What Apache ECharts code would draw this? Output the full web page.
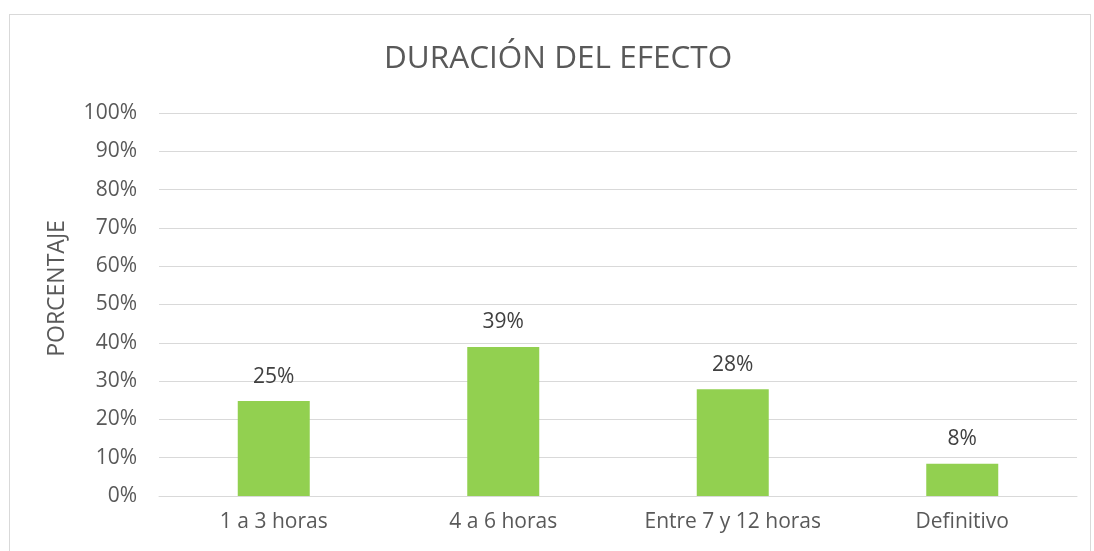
<!DOCTYPE html>
<html>
<head>
<meta charset="utf-8">
<script src="https://cdn.jsdelivr.net/npm/echarts@6/dist/echarts.min.js"></script>
<style>
  html, body { margin: 0; padding: 0; background: #fff; }
  #frame {
    position: absolute; left: 9px; top: 14px; width: 1082px; height: 560px;
    border: 1px solid #d9d9d9; box-sizing: border-box;
  }
  #main { position: absolute; left: 0; top: 0; width: 1094px; height: 551px; }
</style>
</head>
<body>
<div id="frame"></div>
<div id="main"></div>
<script>
// datos del gráfico
const categorias = ["1 a 3 horas", "4 a 6 horas", "Entre 7 y 12 horas", "Definitivo"];
const porcentajes = [24.8, 38.9, 27.9, 8.4];
const etiquetas = ["25%", "39%", "28%", "8%"];
const ticksY = [0, 10, 20, 30, 40, 50, 60, 70, 80, 90, 100];

const chart = echarts.init(document.getElementById("main"));
const font = "'Open Sans', 'DejaVu Sans', sans-serif";

chart.setOption({
  animation: false,
  title: {
    text: "DURACIÓN DEL EFECTO",
    left: 379,
    top: 38,
    textStyle: { fontFamily: font, fontSize: 31.5, fontWeight: "normal", color: "#595959" }
  },
  grid: { left: 159, right: 17, top: 113, bottom: 55 },
  xAxis: {
    type: "category",
    data: categorias,
    axisTick: { show: false },
    axisLine: { lineStyle: { color: "#d9d9d9", width: 1 } },
    axisLabel: { interval: 0, fontFamily: font, fontSize: 21, color: "#595959", margin: 16 }
  },
  yAxis: {
    type: "value",
    min: ticksY[0],
    max: ticksY[ticksY.length - 1],
    interval: 10,
    name: "PORCENTAJE",
    nameLocation: "middle",
    nameGap: 90,
    nameTextStyle: { fontFamily: font, fontSize: 23, color: "#595959", padding: [0, 0, 0, 32] },
    axisLine: { show: false },
    axisTick: { show: false },
    axisLabel: { fontFamily: font, fontSize: 21, color: "#595959", margin: 22, formatter: "{value}%" },
    splitLine: { lineStyle: { color: "#d9d9d9", width: 1 } }
  },
  series: [{
    type: "bar",
    data: porcentajes,
    barWidth: 72,
    itemStyle: { color: "#92d050" },
    label: {
      show: true,
      position: "top",
      distance: 14,
      fontFamily: font,
      fontSize: 21,
      color: "#404040",
      formatter: (p) => etiquetas[p.dataIndex]
    }
  }]
});
</script>
</body>
</html>
